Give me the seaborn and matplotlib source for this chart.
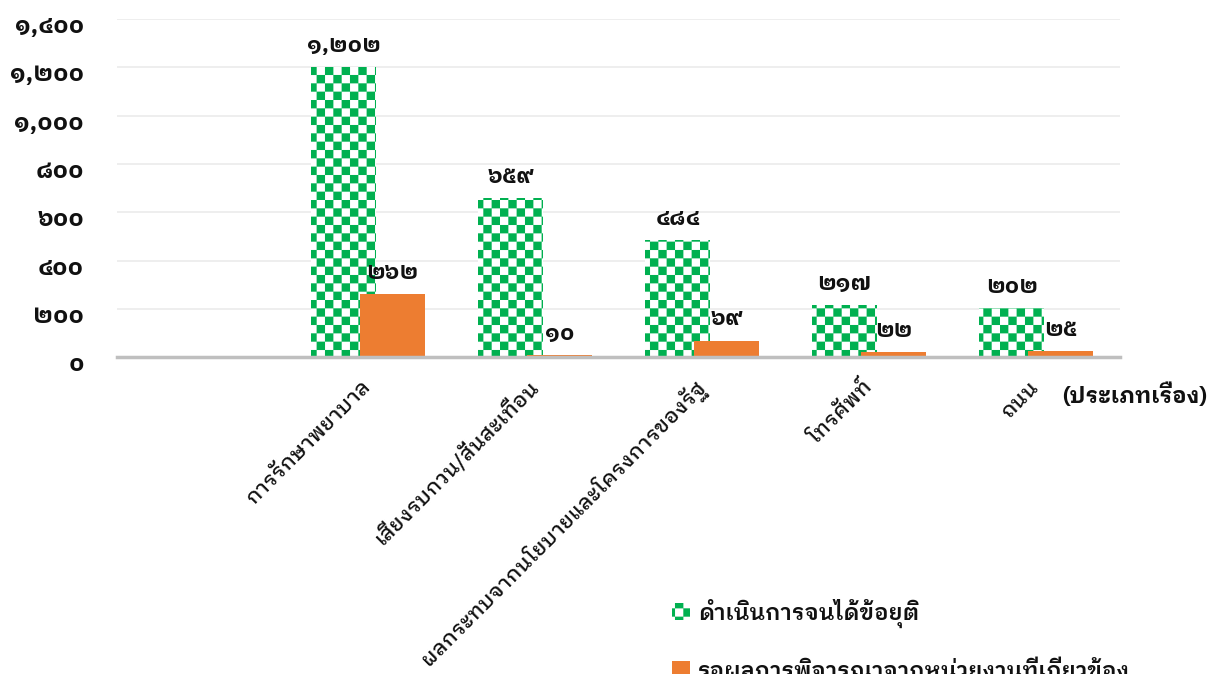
import matplotlib
matplotlib.use("Agg")
import numpy as np
import pandas as pd
import matplotlib.pyplot as plt
import matplotlib.hatch as mhatch
import matplotlib.transforms as mtransforms
from matplotlib.path import Path
from matplotlib.ticker import FixedLocator, FuncFormatter
import seaborn as sns

# ---- data ----
categories = ["", "การรักษาพยาบาล", "เสียงรบกวน/สั่นสะเทือน",
              "ผลกระทบจากนโยบายและโครงการของรัฐ", "โทรศัพท์", "ถนน"]
series_names = ["ดำเนินการจนได้ข้อยุติ", "รอผลการพิจารณาจากหน่วยงานที่เกี่ยวข้อง"]
resolved = [np.nan, 1202, 659, 484, 217, 202]
pending = [np.nan, 262, 10, 69, 22, 25]
y_ticks = [0, 200, 400, 600, 800, 1000, 1200, 1400]
axis_title = "(ประเภทเรื่อง)"

GREEN = "#00B050"
ORANGE = "#ED7D31"
TEXT = "#111111"
THAI_DIGITS = str.maketrans("0123456789", "๐๑๒๓๔๕๖๗๘๙")


def thai_num(v):
    return f"{int(round(v)):,}".translate(THAI_DIGITS)


# ---- checkerboard hatch ('c') ----
class CheckerHatch(mhatch.HatchPatternBase):
    cells = 12

    def __init__(self, hatch, density):
        self.on = hatch.count("c") > 0
        n = self.cells
        self.num_vertices = (n * n // 2) * 5 if self.on else 0

    def set_vertices_and_codes(self, vertices, codes):
        n = self.cells
        s = 1.0 / n
        k = 0
        for i in range(n):
            for j in range(n):
                if (i + j) % 2:
                    continue
                x0, y0 = i * s, j * s
                vertices[k:k + 5] = [(x0, y0), (x0 + s, y0), (x0 + s, y0 + s),
                                     (x0, y0 + s), (x0, y0)]
                codes[k:k + 5] = [Path.MOVETO, Path.LINETO, Path.LINETO,
                                  Path.LINETO, Path.CLOSEPOLY]
                k += 5


mhatch._hatch_types.append(CheckerHatch)

# ---- style ----
sns.set_style("white")
plt.rcParams["font.family"] = ["IBM Plex Sans Thai Looped", "DejaVu Sans"]
plt.rcParams["hatch.linewidth"] = 0.05

df = pd.DataFrame({
    "category": categories * 2,
    "status": [series_names[0]] * len(categories) + [series_names[1]] * len(categories),
    "count": resolved + pending,
}).dropna()

fig = plt.figure(figsize=(12.08, 6.74), dpi=100)
ax = fig.add_axes([0.097, 0.470, 0.830, 0.502])

sns.barplot(data=df, x="category", y="count", hue="status",
            order=categories, hue_order=series_names,
            palette=[GREEN, ORANGE], saturation=1, width=0.584, gap=0,
            dodge=True, legend=False, errorbar=None, ax=ax)

# widen each bar about its own centre so the pair overlaps slightly
bar_w = 0.39
for cont in ax.containers:
    for p in cont.patches:
        cx = p.get_x() + p.get_width() / 2
        p.set_width(bar_w)
        p.set_x(cx - bar_w / 2)

green_bars, orange_bars = ax.containers[0], ax.containers[1]
for p in green_bars.patches:
    p.set_facecolor("white")
    p.set_edgecolor(GREEN)
    p.set_linewidth(0)
    p.set_hatch("c")
for p in orange_bars.patches:
    p.set_edgecolor("none")

# value labels
for cont, vals in ((green_bars, resolved), (orange_bars, pending)):
    labels = [thai_num(v) for v in vals if not np.isnan(v)]
    ax.bar_label(cont, labels=labels, padding=8, fontsize=16.5,
                 fontweight="bold", color=TEXT)

# axes
ax.set_ylim(0, 1400)
ax.set_xlim(-0.5, len(categories) - 0.5)
ax.yaxis.set_major_locator(FixedLocator(y_ticks))
ax.yaxis.set_major_formatter(FuncFormatter(lambda v, _: thai_num(v)))
ax.grid(axis="y", color="#EBEBEB", linewidth=1.2)
ax.set_axisbelow(True)
for side in ("left", "right", "top"):
    ax.spines[side].set_visible(False)
ax.spines["bottom"].set_color("#BFBFBF")
ax.spines["bottom"].set_linewidth(2.5)
ax.tick_params(axis="y", length=0, pad=24, labelsize=17.5)
nudge = mtransforms.ScaledTranslation(0, -0.05, fig.dpi_scale_trans)
for tick in ax.yaxis.get_major_ticks():
    lab = tick.label1
    lab.set_fontweight("bold")
    lab.set_color(TEXT)
    lab.set_transform(lab.get_transform() + nudge)
ax.tick_params(axis="x", length=0, pad=19)
ax.set_xticks(range(len(categories)))
ax.set_xticklabels(categories, rotation=45, ha="right", va="center",
                   rotation_mode="anchor", fontsize=15, fontweight=500,
                   color=TEXT)
ax.set_xlabel("")
ax.set_ylabel("")

fig.text(0.879, 0.414, axis_title, fontsize=16, fontweight="bold",
         ha="left", va="center", color=TEXT)

fig.legend(handles=[green_bars, orange_bars], labels=series_names,
           loc="upper left", bbox_to_anchor=(0.549, 0.125), frameon=False,
           prop={"size": 16, "weight": 600}, handlelength=0.8,
           handleheight=0.8, handletextpad=0.35, labelspacing=1.45,
           borderaxespad=0)
for t in fig.legends[0].get_texts():
    t.set_color(TEXT)

fig.savefig("out.png", dpi=100)
